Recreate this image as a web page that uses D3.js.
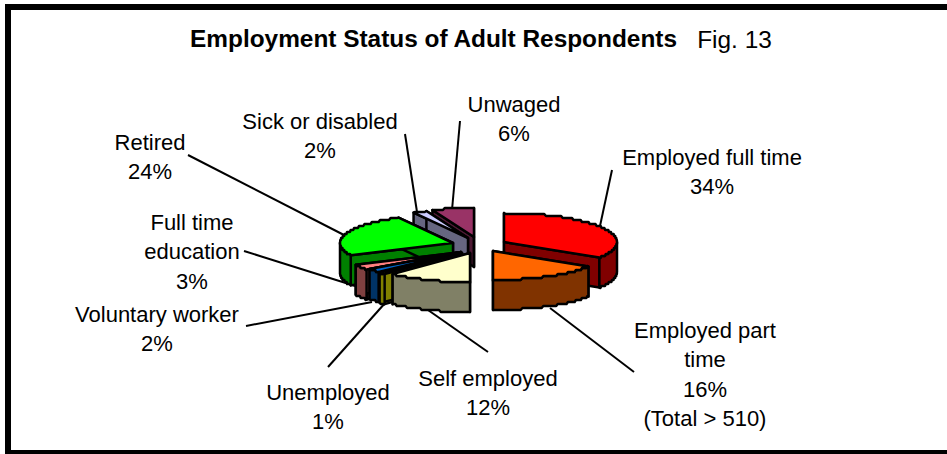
<!DOCTYPE html>
<html><head><meta charset="utf-8">
<script src="https://cdn.jsdelivr.net/npm/d3@7"></script>
<style>html,body{margin:0;padding:0;background:#fff}svg{display:block}text{font-family:"Liberation Sans",Arial,sans-serif;fill:#000}</style>
</head><body><svg id="c" width="947" height="454"></svg>
<script>
const categories=["Employed full time","Employed part time","Self employed","Unemployed","Voluntary worker","Full time education","Retired","Sick or disabled","Unwaged"];
const values=[34,16,12,1,2,3,24,2,6];
const topColors=["#FF0000","#FF6600","#FFFFCC","#FFFF00","#0066CC","#FF8080","#00FF00","#CCCCFF","#993366"];
const wallColors=["#800000","#803300","#808066","#808000","#003366","#804040","#008000","#666680","#4D1933"];
// where each exploded wedge's tip sits
const tipX=[504,493,470,462,461,458,453,468,474];
const tipY=[242,251,253,253,252,252.5,243,238,237];
const labelLines=[["Employed full time","34%"],["Employed part","time","16%","(Total > 510)"],["Self employed","12%"],["Unemployed","1%"],["Voluntary worker","2%"],["Full time","education","3%"],["Retired","24%"],["Sick or disabled","2%"],["Unwaged","6%"]];
const labelX=[712,705,488,328,157,192,150,320,514];
const labelY=[165,338,386,400,322,230,150,129,112];
const leaderEnds=[[[612,170],[600,226]],[[634,372],[550,308]],[[488,352],[428,310]],[[328,367],[386,302]],[[246,326],[372,302]],[[244,251],[368,290]],[[188,155],[344,235]],[[405,134],[417,212]],[[460,121],[452,210]]];

const rx=113,ry=29,depth=30,stepY=2;
const svg=d3.select("#c");
const frame=svg.append("g");
frame.append("rect").attr("x",8).attr("y",7).attr("width",960).attr("height",446).attr("fill","#fff").attr("stroke","#000").attr("stroke-width",6);

const pie=d3.pie().sort(null).value(d=>d)(values);

const lines=svg.append("g");
leaderEnds.forEach(l=>lines.append("path").attr("d",d3.line()(l)).attr("fill","none").attr("stroke","#000").attr("stroke-width",2));

function pt(i,a,z){return [tipX[i]+rx*Math.sin(a),tipY[i]-ry*Math.cos(a)+z];}
function arcPts(i,a0,a1,z){
  const n=Math.max(2,Math.ceil((a1-a0)*60));
  return d3.range(n+1).map(k=>{
    const p=pt(i,a0+(a1-a0)*k/n,z);
    return (k===0||k===n)?p:[p[0],Math.round(p[1]/stepY)*stepY];
  });
}
const style=(s,f)=>s.attr("fill",f).attr("stroke","#000").attr("stroke-width",2.5).attr("stroke-linejoin","round");
const lg=d3.line();
const order=[8,7,6,5,4,3,0,2,1];
const g=svg.append("g");
order.forEach(i=>{
  const p=pie[i],a0=p.startAngle,a1=p.endAngle,t=[tipX[i],tipY[i]];
  const sg=g.append("g");
  const tz=[t[0],t[1]+depth];
  [a0,a1].forEach(a=>{
    const o=pt(i,a,0),oz=pt(i,a,depth);
    style(sg.append("path").attr("d",lg([t,o,oz,tz])+"Z"),wallColors[i]);
  });
  const w0=Math.max(a0,Math.PI/2),w1=Math.min(a1,Math.PI*1.5);
  if(w1>w0){
    style(sg.append("path").attr("d",lg(arcPts(i,w0,w1,0).concat(arcPts(i,w0,w1,depth).reverse()))+"Z"),wallColors[i]);
  }
  style(sg.append("path").attr("d",lg([t].concat(arcPts(i,a0,a1,0)))+"Z"),topColors[i]);
});

const text=svg.append("g");
labelLines.forEach((ls,i)=>{
  ls.forEach((s,k)=>text.append("text").attr("x",labelX[i]).attr("y",labelY[i]+k*29.3).attr("text-anchor","middle").attr("font-size",22).text(s));
});
text.append("text").attr("x",433.5).attr("y",46.5).attr("text-anchor","middle").attr("font-size",24.4).attr("font-weight","bold").text("Employment Status of Adult Respondents");
text.append("text").attr("x",734.5).attr("y",48).attr("text-anchor","middle").attr("font-size",24.4).text("Fig. 13");
</script></body></html>
